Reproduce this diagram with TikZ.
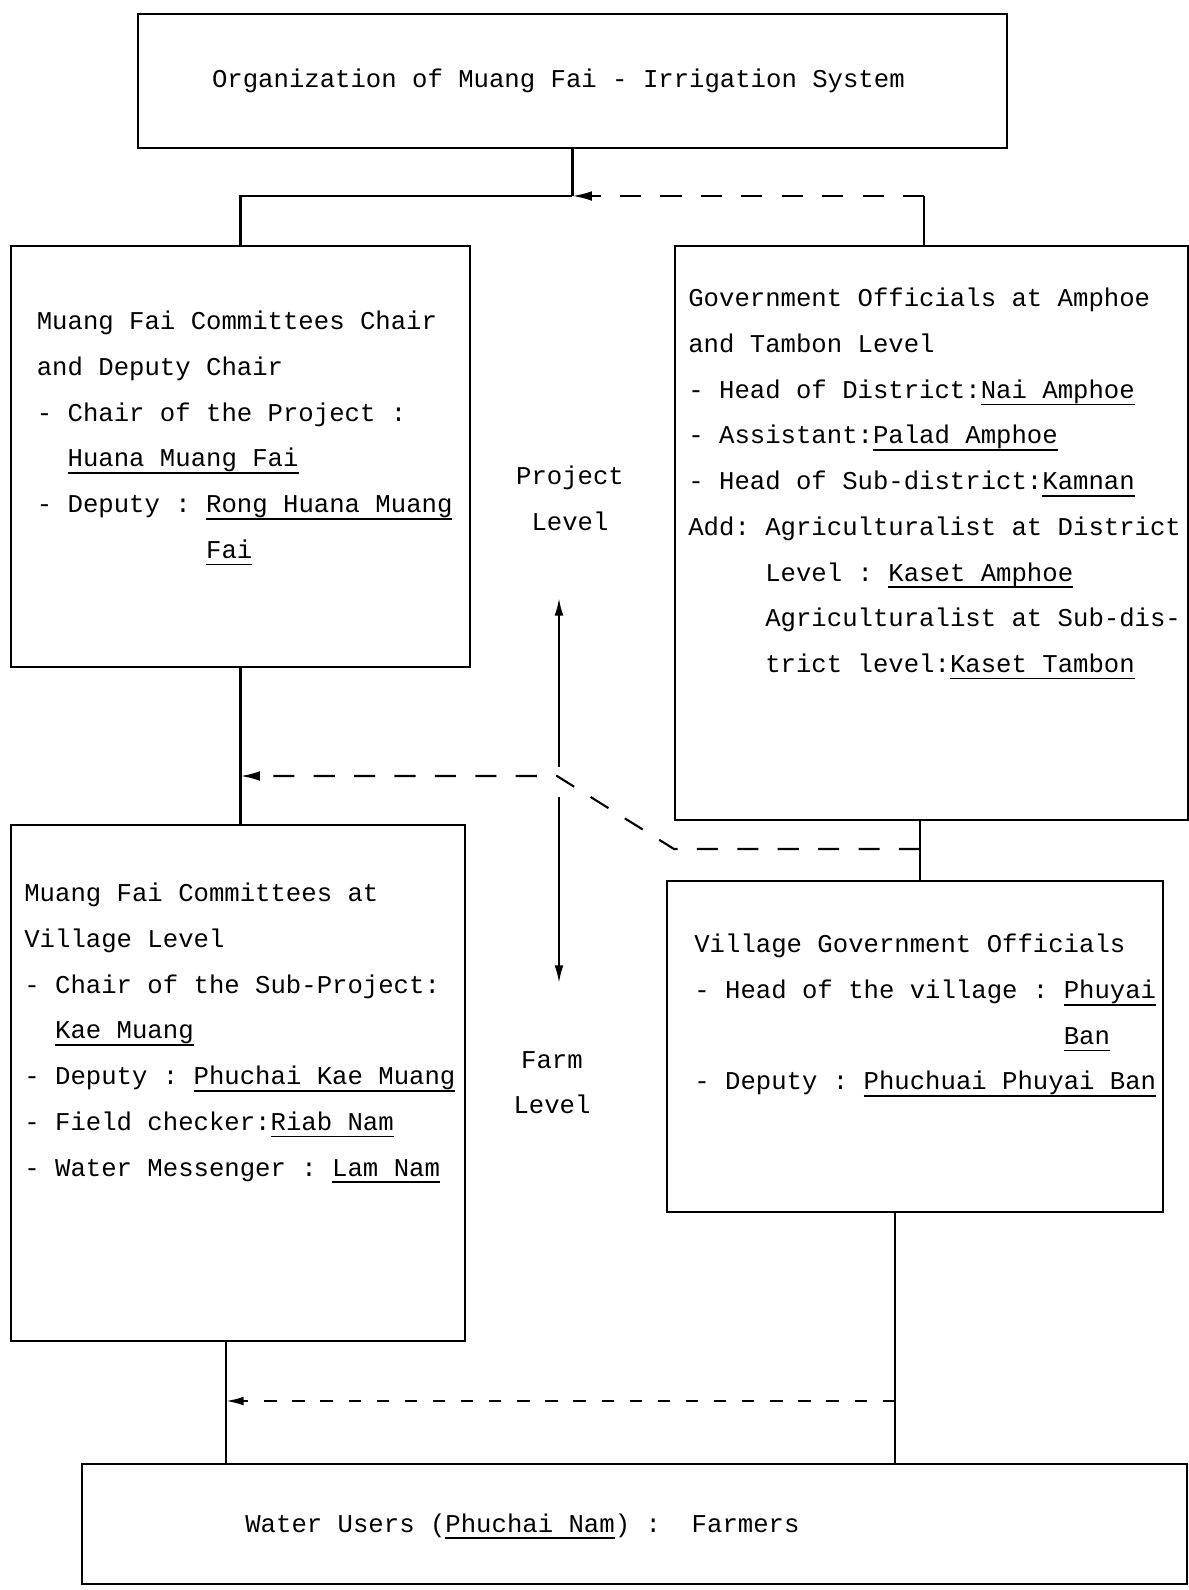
\documentclass[tikz,border=0pt]{standalone}
\usepackage{fontspec}
\setmonofont{Liberation Mono}
\usetikzlibrary{arrows.meta, positioning}
\newcommand{\uterm}[1]{\leavevmode\sbox0{#1}\rlap{\rule[-4pt]{\wd0}{0.9pt}}\usebox0}

\begin{document}
\begin{tikzpicture}[
    x=0.02cm, y=-0.02cm,
    box/.style={draw, line width=1.2pt, anchor=north west, inner sep=0pt, font=\ttfamily\fontsize{14.6}{26}\selectfont},
    boxtext/.style={align=left, inner sep=0pt, font=\ttfamily\fontsize{14.6}{26}\selectfont},
    levelnote/.style={align=center, inner sep=0pt, font=\ttfamily\fontsize{14.6}{26}\selectfont},
    link/.style={line width=1.2pt},
    feed/.style={line width=1.2pt, dash pattern=on 12pt off 11pt, -{Latex[length=11pt, width=5.5pt]}},
    feedlow/.style={line width=1.2pt, dash pattern=on 7pt off 9pt, -{Latex[length=10pt, width=5pt]}},
    levelarrow/.style={line width=1.2pt, -{Latex[length=10pt, width=5pt]}}
]
    \useasboundingbox (0,0) rectangle (1189,1590);

    % boxes
    \node[box, minimum width=17.38cm, minimum height=2.68cm] (orgbox) at (137,13) {Organization of Muang Fai - Irrigation System\hspace*{16pt}};
    \node[box, minimum width=9.18cm, minimum height=8.42cm] (chairbox) at (10,245) {};
    \node[box, minimum width=10.26cm, minimum height=11.48cm] (govbox) at (674,245) {};
    \node[box, minimum width=9.08cm, minimum height=10.32cm] (villcomm) at (10,824) {};
    \node[box, minimum width=9.92cm, minimum height=6.62cm] (villgov) at (666,880) {};
    \node[box, minimum width=22.10cm, minimum height=2.40cm] (users) at (81,1463) {};

    % box texts
    \node[boxtext, below right=1.32cm and 0.53cm of chairbox.north west] (chairtxt) {Muang Fai Committees Chair\\ and Deputy Chair\\ - Chair of the Project :\\ \phantom{- }\uterm{Huana Muang Fai}\\ - Deputy : \uterm{Rong Huana Muang}\\ \phantom{- Deputy : }\uterm{Fai}};
    \node[boxtext, below right=0.86cm and 0.28cm of govbox.north west] (govtxt) {Government Officials at Amphoe\\ and Tambon Level\\ - Head of District:\uterm{Nai Amphoe}\\ - Assistant:\uterm{Palad Amphoe}\\ - Head of Sub-district:\uterm{Kamnan}\\ Add: Agriculturalist at District\\ \phantom{Add: }Level : \uterm{Kaset Amphoe}\\ \phantom{Add: }Agriculturalist at Sub-dis-\\ \phantom{Add: }trict level:\uterm{Kaset Tambon}};
    \node[boxtext, below right=1.18cm and 0.28cm of villcomm.north west] (villcommtxt) {Muang Fai Committees at\\ Village Level\\ - Chair of the Sub-Project:\\ \phantom{- }\uterm{Kae Muang}\\ - Deputy : \uterm{Phuchai Kae Muang}\\ - Field checker:\uterm{Riab Nam}\\ - Water Messenger : \uterm{Lam Nam}};
    \node[boxtext, below right=1.08cm and 0.56cm of villgov.north west] (villgovtxt) {Village Government Officials\\ - Head of the village : \uterm{Phuyai}\\ \phantom{- Head of the village : }\uterm{Ban}\\ - Deputy : \uterm{Phuchuai Phuyai Ban}};
    \node[boxtext, anchor=base west] (userstxt) at (245,1532) {Water Users (\uterm{Phuchai Nam}) :\ \ Farmers};

    % level labels
    \node[levelnote, anchor=north] (projlevel) at (570,466) {Project\\ Level};
    \node[levelnote, anchor=north] (farmlevel) at (552,1051) {Farm\\ Level};

    % top connectors
    \coordinate (split) at (orgbox.south |- 0,196);
    \coordinate (govup) at (924,196);
    \draw[link] (orgbox) -- (split);
    \draw[link] (chairbox.north) |- (split);
    \draw[link] (govup) -- (govup |- govbox.north);
    \draw[feed] (govup) -- (split);

    % middle connectors
    \coordinate (cross) at (557,776);
    \coordinate (bend) at (674,849);
    \coordinate (govdrop) at (920,849);
    \coordinate (uptip) at (559,598);
    \coordinate (downtip) at (559,983);
    \draw[link] (chairbox.south) -- (chairbox.south |- villcomm.north);
    \draw[link] (govbox.south -| govdrop) -- (villgov.north -| govdrop);
    \draw[feed] (govdrop) -- (bend) -- (cross) -- (cross -| chairbox.south);
    \draw[levelarrow] ([yshift=5pt]uptip |- cross) -- (uptip);
    \draw[levelarrow] ([yshift=-12pt]downtip |- cross) -- (downtip);

    % bottom connectors
    \coordinate (commdrop) at (226,1401);
    \coordinate (govgdrop) at (895,1401);
    \draw[link] (commdrop |- villcomm.south) -- (commdrop |- users.north);
    \draw[link] (govgdrop |- villgov.south) -- (govgdrop |- users.north);
    \draw[feedlow] (govgdrop) -- (commdrop);
\end{tikzpicture}
\end{document}
